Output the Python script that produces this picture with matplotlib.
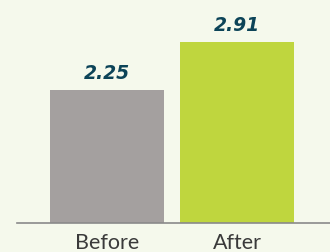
import matplotlib
matplotlib.use("Agg")
import matplotlib.pyplot as plt

categories = ["Before", "After"]
values = [2.25, 2.91]
labels = ["2.25", "2.91"]
colors = ["#A4A09F", "#BFD63E"]

bg = "#F5F9EC"
fig = plt.figure(figsize=(3.3, 2.52), dpi=100, facecolor=bg)
ax = fig.add_axes([17/330, 1 - 223/252, 313/330, 223/252], facecolor=bg)

x = list(range(len(categories)))
bars = ax.bar(x, values, width=0.877, color=colors, bottom=0)
ax.set_ylim(0.42, 3.49)
ax.set_xlim(-0.692, 1.715)

for xi, v, lab in zip(x, values, labels):
    ax.annotate(lab, (xi, v), xytext=(0, 8), textcoords="offset points",
                ha="center", va="baseline", color="#0C4458",
                fontsize=13.5, fontweight="bold", style="italic", family="DejaVu Sans")

for s in ["top", "right", "left"]:
    ax.spines[s].set_visible(False)
ax.spines["bottom"].set_color("#8A8A8A")
ax.spines["bottom"].set_linewidth(1.2)
ax.set_yticks([])
ax.set_xticks(x)
ax.set_xticklabels(categories, fontsize=15.5, color="#3A3A3A", family="Lato")
ax.tick_params(axis="x", length=0, pad=7)

fig.savefig("out.png", dpi=100, facecolor=bg)
